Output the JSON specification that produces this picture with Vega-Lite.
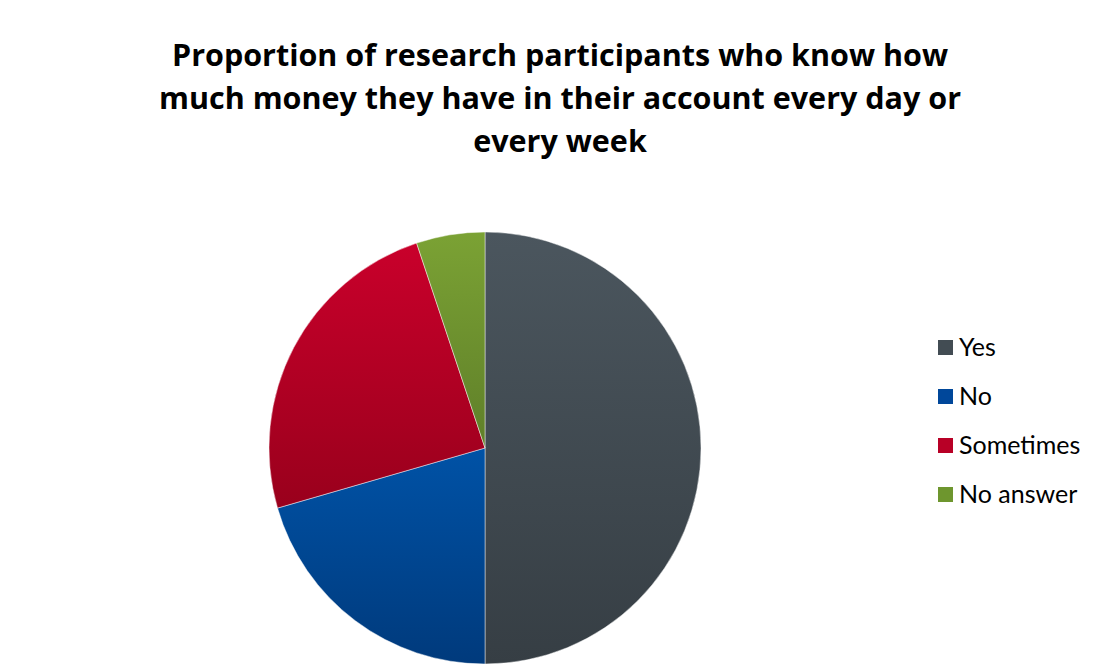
{
  "$schema": "https://vega.github.io/schema/vega-lite/v6.json",
  "autosize": "none",
  "width": 432,
  "height": 432,
  "padding": {"left": 269, "top": 232, "right": 403, "bottom": 2},
  "background": "#ffffff",
  "title": {
    "text": ["Proportion of research participants who know how", "much money they have in their account every day or", "every week"],
    "font": "Open Sans",
    "fontSize": 30.5,
    "fontWeight": "bold",
    "color": "#000000",
    "lineHeight": 43,
    "anchor": "middle",
    "frame": "group",
    "dx": 75,
    "offset": 72
  },
  "data": {
    "values": [
      {"answer": "Yes", "count": 39, "rank": 1},
      {"answer": "No", "count": 16, "rank": 2},
      {"answer": "Sometimes", "count": 19, "rank": 3},
      {"answer": "No answer", "count": 4, "rank": 4}
    ]
  },
  "transform": [
    {"window": [{"op": "sum", "field": "count", "as": "v1"}], "sort": [{"field": "rank", "order": "ascending"}], "frame": [null, 0]},
    {"calculate": "datum.v1 - datum.count", "as": "v0"}
  ],
  "encoding": {
    "theta": {"field": "v0", "type": "quantitative", "stack": null, "scale": {"domain": [0, 78]}},
    "theta2": {"field": "v1"}
  },
  "layer": [
    {
      "mark": {"type": "arc", "opacity": 0},
      "encoding": {
        "color": {
          "field": "answer",
          "type": "nominal",
          "sort": ["Yes", "No", "Sometimes", "No answer"],
          "scale": {
            "domain": ["Yes", "No", "Sometimes", "No answer"],
            "range": ["#424c53", "#00479a", "#b80026", "#6e962e"]
          },
          "legend": {
            "title": null,
            "orient": "none",
            "legendX": 664,
            "legendY": 103,
            "padding": 0,
            "symbolType": "square",
            "symbolSize": 225,
            "symbolStrokeWidth": 0,
            "symbolOpacity": 1,
            "labelFont": "Lato",
            "labelFontSize": 25,
            "labelColor": "#000000",
            "labelOffset": 1,
            "rowPadding": 23,
            "labelLimit": 300
          }
        }
      }
    },
    {
      "transform": [{"filter": "datum.answer === 'Yes'"}],
      "mark": {"type": "arc", "stroke": "#ffffff", "strokeWidth": 0.75, "strokeOpacity": 0.6,
        "color": {"gradient": "linear", "x1": 0, "y1": 0, "x2": 0, "y2": 1, "stops": [{"offset": 0, "color": "#4b565e"}, {"offset": 1, "color": "#363e44"}]}}
    },
    {
      "transform": [{"filter": "datum.answer === 'No'"}],
      "mark": {"type": "arc", "stroke": "#ffffff", "strokeWidth": 0.75, "strokeOpacity": 0.6,
        "color": {"gradient": "linear", "x1": 0, "y1": 0, "x2": 0, "y2": 1, "stops": [{"offset": 0, "color": "#0052a6"}, {"offset": 1, "color": "#003a7c"}]}}
    },
    {
      "transform": [{"filter": "datum.answer === 'Sometimes'"}],
      "mark": {"type": "arc", "stroke": "#ffffff", "strokeWidth": 0.75, "strokeOpacity": 0.6,
        "color": {"gradient": "linear", "x1": 0, "y1": 0, "x2": 0, "y2": 1, "stops": [{"offset": 0, "color": "#c9002b"}, {"offset": 1, "color": "#99001c"}]}}
    },
    {
      "transform": [{"filter": "datum.answer === 'No answer'"}],
      "mark": {"type": "arc", "stroke": "#ffffff", "strokeWidth": 0.75, "strokeOpacity": 0.6,
        "color": {"gradient": "linear", "x1": 0, "y1": 0, "x2": 0, "y2": 1, "stops": [{"offset": 0, "color": "#7ba234"}, {"offset": 1, "color": "#5f7f29"}]}}
    }
  ],
  "config": {"view": {"stroke": null}}
}
